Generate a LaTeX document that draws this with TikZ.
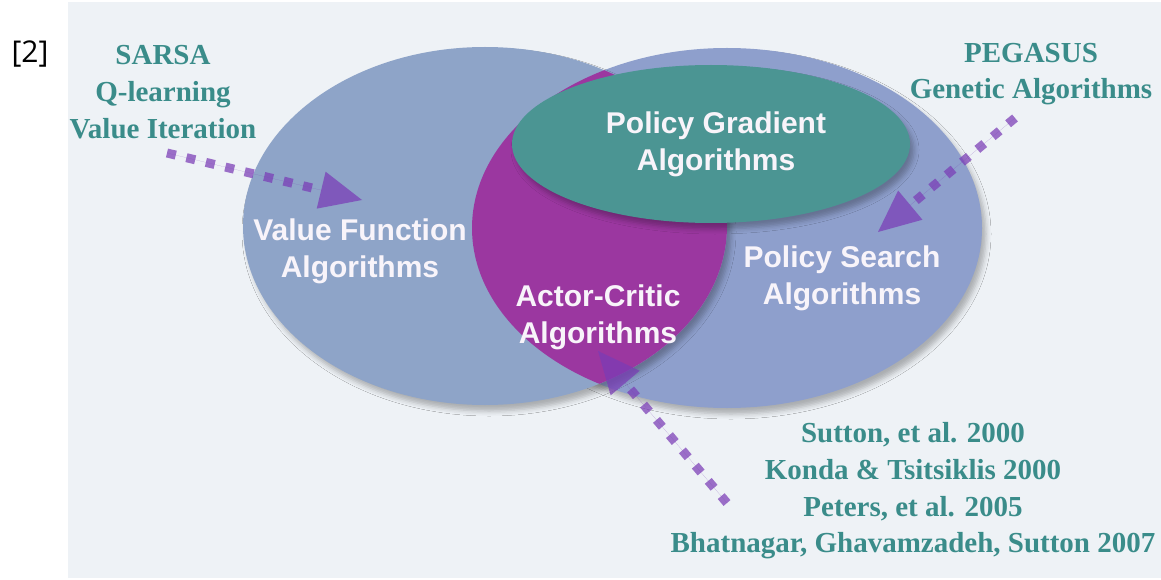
\documentclass[tikz,border=0pt]{standalone}
\usepackage{fontspec}
\setmainfont{Liberation Serif}
\setsansfont{Liberation Sans}
\newfontfamily\labelfont{Open Sans}
\usetikzlibrary{arrows.meta,shadows.blur}
\definecolor{bg}{HTML}{EEF2F6}
\definecolor{vfblue}{HTML}{8EA4C8}
\definecolor{psblue}{HTML}{8E9FCC}
\definecolor{acpurple}{HTML}{9B37A0}
\definecolor{pgteal}{HTML}{4B9593}
\definecolor{refteal}{HTML}{3A8C8A}
\definecolor{dotpurple}{HTML}{7A3CB6}
\definecolor{offwhite}{HTML}{F8F4FA}
\tikzset{
  whitelbl/.style={font=\sffamily\bfseries\fontsize{30}{37}\selectfont, text=offwhite, align=center, inner sep=0pt},
  reflbl/.style={font=\rmfamily\bfseries\fontsize{29}{36.7}\selectfont, text=refteal, align=center, inner sep=0pt},
  dotarrow/.style={draw=dotpurple, fill=dotpurple, opacity=.72, line width=9pt, dash pattern=on 9pt off 11pt,
    -{Triangle[length=42pt,width=38pt,line width=0pt]}},
  softshadow/.style={blur shadow={shadow xshift=4pt, shadow yshift=-6pt, shadow blur radius=5pt, shadow opacity=28}},
}
\begin{document}
\begin{tikzpicture}[x=1pt,y=-1pt]
\useasboundingbox (0,0) rectangle (1161,580);
\fill[bg] (68,2) rectangle (1161,578);
\node[font=\labelfont\fontsize{30}{32}\selectfont, inner sep=0pt] (ref) at (30,54) {[2]};

% ellipses
\path[fill=psblue, softshadow] (727,228) ellipse [x radius=255, y radius=180];
\path[fill=vfblue, softshadow] (485,226) ellipse [x radius=242, y radius=179];
\begin{scope}
  \clip (485,226) ellipse [x radius=242, y radius=179];
  \fill[acpurple] (727,228) ellipse [x radius=255, y radius=180];
\end{scope}
\path[fill=pgteal, softshadow] (711,144) ellipse [x radius=199, y radius=79];

% labels
\node[whitelbl] (pg) at (716,144) {Policy Gradient\\Algorithms};
\node[whitelbl] (vf) at (360,251) {Value Function\\Algorithms};
\node[whitelbl] (ac) at (598,317) {Actor-Critic\\Algorithms};
\node[whitelbl] (ps) at (842,278) {Policy Search\\Algorithms};
\node[reflbl] (vfrefs) at (163,92) {SARSA\\Q-learning\\Value Iteration};
\node[reflbl] (psrefs) at (1031,74) {PEGASUS\\Genetic Algorithms};
\node[reflbl] (acrefs) at (913,491) {Sutton, et al. 2000\\Konda \& Tsitsiklis 2000\\Peters, et al. 2005\\Bhatnagar, Ghavamzadeh, Sutton 2007};

% arrows
\coordinate (a1s) at (167,153); \coordinate (a1e) at (362,200);
\coordinate (a2s) at (1015,118); \coordinate (a2e) at (878,232);
\coordinate (a3s) at (727,503); \coordinate (a3e) at (598,351);
\draw[dotarrow] (a1s) -- (a1e);
\draw[dotarrow] (a2s) -- (a2e);
\draw[dotarrow] (a3s) -- (a3e);
\end{tikzpicture}
\end{document}
